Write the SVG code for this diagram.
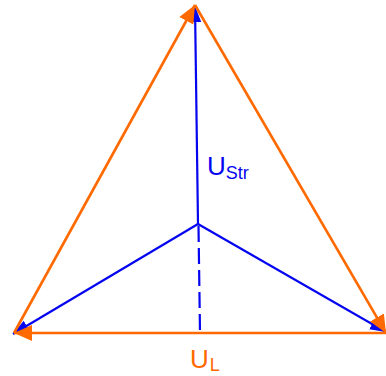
<svg xmlns="http://www.w3.org/2000/svg" width="386" height="376" viewBox="0 0 386 376">
<defs>
<style>
.b{stroke:#0505f0;stroke-width:2.2;fill:none}
.o{stroke:#ff6a00;stroke-width:2.6;fill:none}
.tb{fill:#0505f0;font-family:"Liberation Sans",Arial,sans-serif}
.to{fill:#ff6a00;font-family:"Liberation Sans",Arial,sans-serif}
</style>
<marker id="ab" markerUnits="userSpaceOnUse" markerWidth="18" markerHeight="14" refX="16" refY="6" orient="auto" viewBox="0 0 18 12">
<path d="M0,0 L16,6 L0,12 z" fill="#0505f0"/>
</marker>
<marker id="ao" markerUnits="userSpaceOnUse" markerWidth="20" markerHeight="18" refX="18" refY="8" orient="auto" viewBox="0 0 20 16">
<path d="M0,0 L18,8 L0,16 z" fill="#ff6a00"/>
</marker>
</defs>
<g id="connectors">
<line class="b" x1="198" y1="224" x2="195" y2="6" marker-end="url(#ab)"/>
<line class="b" x1="198" y1="224" x2="13" y2="334" marker-end="url(#ab)"/>
<line class="b" x1="198" y1="224" x2="386" y2="332" marker-end="url(#ab)"/>
<line class="b" x1="198.5" y1="226" x2="200" y2="332" stroke-dasharray="16 6"/>
<line class="o" x1="386" y1="333" x2="14" y2="333" marker-end="url(#ao)"/>
<line class="o" x1="14" y1="333" x2="195" y2="5" marker-end="url(#ao)"/>
<line class="o" x1="195" y1="5" x2="386" y2="333" marker-end="url(#ao)"/>
</g>
<g id="label-ustr">
<text class="tb" x="207" y="175" font-size="26">U<tspan font-size="18" dy="4">Str</tspan></text>
</g>
<g id="label-ul">
<text class="to" x="190" y="368" font-size="26">U<tspan font-size="18" dx="1" dy="3">L</tspan></text>
</g>
</svg>
